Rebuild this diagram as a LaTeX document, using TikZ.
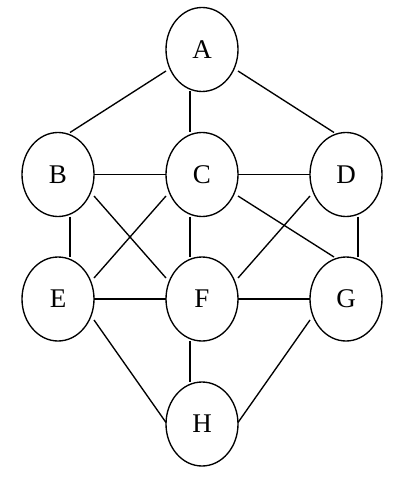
\documentclass[tikz,border=0pt]{standalone}
\usepackage{fontspec}
\setmainfont{Liberation Serif}
\usetikzlibrary{shapes.geometric,calc}
\begin{document}
\begin{tikzpicture}[x=1pt,y=-1pt,
  vtx/.style={draw,ellipse,line width=1.35pt,minimum width=72pt,minimum height=84pt,inner sep=0pt,font=\fontsize{27}{31}\selectfont},
  edge/.style={line width=1.35pt}]
\useasboundingbox (0,0) rectangle (403,486);
\node[vtx] (A) at (202,49.5) {A};
\node[vtx] (B) at (58,174.5) {B};
\node[vtx] (C) at (202,174.5) {C};
\node[vtx] (D) at (346,174.5) {D};
\node[vtx] (E) at (58,299) {E};
\node[vtx] (F) at (202,299) {F};
\node[vtx] (G) at (346,299) {G};
\node[vtx] (H) at (202,424) {H};
\draw[edge] ($(A)+(-36,21.5)$) -- ($(B)+(12,-42)$);
\draw[edge] ($(A)+(-12,42)$) -- ($(C)+(-12,-42)$);
\draw[edge] ($(A)+(36,21.5)$) -- ($(D)+(-12,-42)$);
\draw[edge] ($(B)+(36,0)$) -- ($(C)+(-36,0)$);
\draw[edge] ($(C)+(36,0)$) -- ($(D)+(-36,0)$);
\draw[edge] ($(B)+(36,21.5)$) -- ($(F)+(-36,-21)$);
\draw[edge] ($(C)+(-36,21.5)$) -- ($(E)+(36,-21)$);
\draw[edge] ($(C)+(36,21.5)$) -- ($(G)+(-12,-42)$);
\draw[edge] ($(D)+(-36,21.5)$) -- ($(F)+(36,-21)$);
\draw[edge] ($(B)+(12,42)$) -- ($(E)+(12,-42)$);
\draw[edge] ($(C)+(-12,42)$) -- ($(F)+(-12,-42)$);
\draw[edge] ($(D)+(12,42)$) -- ($(G)+(12,-42)$);
\draw[edge] ($(E)+(36,0)$) -- ($(F)+(-36,0)$);
\draw[edge] ($(F)+(36,0)$) -- ($(G)+(-36,0)$);
\draw[edge] ($(E)+(36,21)$) -- ($(H)+(-36,-1.5)$);
\draw[edge] ($(F)+(-12,42)$) -- ($(H)+(-12,-42)$);
\draw[edge] ($(G)+(-36,21)$) -- ($(H)+(36,-1.5)$);
\end{tikzpicture}
\end{document}
